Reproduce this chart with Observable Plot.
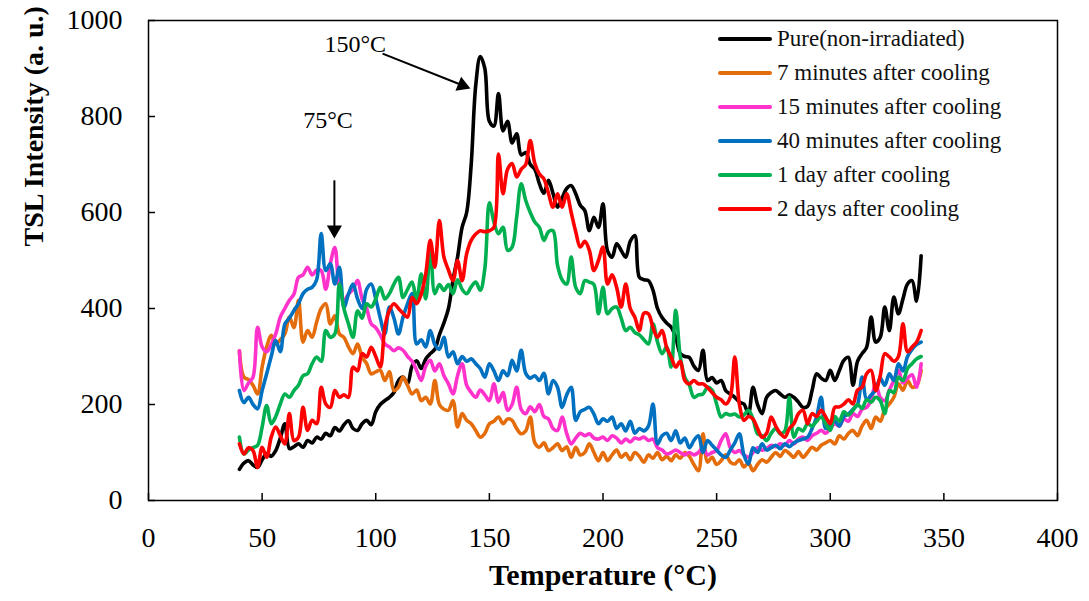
<!DOCTYPE html>
<html>
<head>
<meta charset="utf-8">
<script src="https://cdn.jsdelivr.net/npm/d3@7"></script>
<script src="https://cdn.jsdelivr.net/npm/@observablehq/plot@0.6"></script>
<style>
  html, body { margin: 0; padding: 0; background: #fff; }
  #wrap { position: relative; width: 1089px; height: 601px; font-family: "Liberation Serif", "Times New Roman", serif; }
  #legend { position: absolute; left: 718px; top: 22px; }
  .row { display: flex; align-items: center; height: 34px; }
  .swatch { width: 54px; height: 4px; border-radius: 2px; margin-right: 5px; }
  .lab { font-size: 23px; color: #111; white-space: nowrap; }
</style>
</head>
<body>
<div id="wrap"></div>
<script>
// Temperature grid (°C), shared by all glow curves
const temps = [
  40, 42, 44, 46, 48, 50, 52, 54, 56, 58,
  60, 62, 64, 66, 68, 70, 72, 74, 76, 78,
  80, 82, 84, 86, 88, 90, 92, 94, 96, 98,
  100, 102, 104, 106, 108, 110, 112, 114, 116, 118,
  120, 122, 124, 126, 128, 130, 132, 134, 136, 138,
  140, 142, 144, 146, 148, 150, 152, 154, 156, 158,
  160, 162, 164, 166, 168, 170, 172, 174, 176, 178,
  180, 182, 184, 186, 188, 190, 192, 194, 196, 198,
  200, 202, 204, 206, 208, 210, 212, 214, 216, 218,
  220, 222, 224, 226, 228, 230, 232, 234, 236, 238,
  240, 242, 244, 246, 248, 250, 252, 254, 256, 258,
  260, 262, 264, 266, 268, 270, 272, 274, 276, 278,
  280, 282, 284, 286, 288, 290, 292, 294, 296, 298,
  300, 302, 304, 306, 308, 310, 312, 314, 316, 318,
  320, 322, 324, 326, 328, 330, 332, 334, 336, 338,
  340
];

// TSL intensity (a. u.) for each sample
const pure = [
  65, 78, 83, 74, 69, 85, 98, 92, 104, 130,
  160, 108, 112, 118, 111, 125, 120, 132, 128, 140,
  135, 152, 145, 158, 166, 150, 146, 160, 167, 158,
  185, 200, 208, 215, 225, 250, 257, 243, 280, 291,
  275, 295, 306, 315, 345, 370, 400, 460, 507, 569,
  600, 700, 865, 925, 900, 790, 780, 848, 770, 790,
  745, 764, 720, 725, 700, 690, 660, 640, 667, 640,
  611, 630, 650, 656, 639, 615, 604, 562, 590, 569,
  618, 520, 507, 535, 521, 507, 540, 552, 465, 460,
  458, 438, 400, 381, 370, 361, 340, 306, 300, 298,
  280, 271, 313, 250, 256, 245, 250, 229, 222, 215,
  205, 201, 181, 236, 200, 181, 215, 225, 229, 222,
  215, 220, 215, 205, 194, 196, 229, 264, 255, 250,
  271, 250, 271, 292, 298, 240, 290, 306, 319, 382,
  330, 340, 403, 354, 424, 389, 420, 451, 458, 415,
  510
];
const min7 = [
  312, 257, 252, 240, 222, 278, 320, 344, 326, 335,
  347, 382, 360, 417, 330, 354, 340, 372, 400, 410,
  368, 385, 347, 340, 320, 306, 326, 299, 285, 264,
  268, 271, 250, 268, 229, 236, 257, 240, 222, 230,
  208, 215, 201, 250, 200, 190, 188, 208, 153, 181,
  167, 160, 146, 132, 140, 160, 165, 174, 160, 170,
  167, 150, 139, 145, 174, 120, 111, 120, 104, 110,
  118, 104, 112, 90, 111, 95, 100, 118, 100, 83,
  100, 83, 95, 105, 90, 98, 85, 100, 92, 80,
  95, 88, 100, 85, 92, 83, 95, 88, 100, 92,
  75, 62, 139, 80, 90, 75, 83, 95, 80, 76,
  85, 70, 78, 62, 75, 85, 80, 90, 100, 92,
  104, 98, 90, 102, 90, 100, 111, 105, 115, 120,
  125, 118, 135, 128, 140, 146, 135, 155, 167, 150,
  174, 165, 190, 201, 215, 243, 230, 250, 236, 240,
  271
];
const min15 = [
  312, 229, 245, 257, 361, 320, 310, 325, 347, 382,
  400, 417, 430, 465, 470, 486, 470, 480, 479, 440,
  493, 527, 440, 417, 430, 440, 458, 420, 400, 368,
  360, 345, 326, 320, 312, 318, 313, 300, 290, 271,
  250, 280, 292, 270, 285, 260, 243, 222, 260, 285,
  240, 225, 215, 230, 220, 208, 243, 205, 225, 188,
  200, 236, 190, 181, 195, 185, 200, 175, 170, 150,
  146, 174, 140, 118, 130, 140, 135, 139, 130, 128,
  132, 125, 135, 130, 120, 128, 122, 130, 128, 132,
  125, 128, 110, 105, 97, 100, 105, 100, 95, 100,
  95, 100, 110, 95, 100, 104, 125, 139, 110, 100,
  104, 95, 90, 100, 110, 105, 108, 115, 112, 118,
  115, 125, 118, 128, 132, 125, 135, 140, 146, 140,
  150, 160, 155, 170, 165, 181, 175, 190, 194, 210,
  243, 215, 208, 230, 250, 271, 245, 255, 262, 236,
  285
];
const min40 = [
  229, 204, 215, 200, 191, 229, 264, 300, 333, 310,
  368, 380, 396, 410, 431, 440, 444, 460, 556, 479,
  493, 451, 486, 402, 430, 451, 420, 400, 440, 451,
  420, 380, 347, 403, 380, 347, 382, 410, 431, 326,
  335, 320, 354, 325, 315, 340, 299, 310, 285, 300,
  290, 295, 285, 275, 257, 285, 270, 250, 270, 260,
  292, 270, 313, 265, 255, 260, 250, 265, 222, 250,
  236, 194, 220, 236, 167, 185, 190, 194, 180, 160,
  170, 165, 174, 150, 160, 145, 165, 140, 150, 145,
  155, 201, 118, 135, 140, 125, 145, 120, 130, 110,
  125, 135, 100, 125, 115, 105, 95, 90, 105, 120,
  139, 95, 76, 110, 100, 118, 105, 110, 115, 108,
  118, 112, 120, 125, 128, 132, 150, 174, 215, 150,
  160, 165, 155, 175, 180, 190, 200, 257, 210, 220,
  230, 255, 240, 264, 250, 285, 270, 300, 315, 325,
  330
];
const day1 = [
  132, 97, 105, 110, 115, 153, 198, 160, 175, 201,
  222, 215, 229, 240, 260, 264, 285, 299, 290, 354,
  340, 347, 451, 400, 368, 340, 395, 380, 410, 403,
  420, 444, 420, 431, 451, 465, 423, 440, 455, 417,
  472, 420, 528, 431, 450, 438, 450, 431, 460, 440,
  431, 445, 455, 438, 483, 620, 580, 556, 569, 521,
  528, 590, 660, 625, 600, 580, 569, 542, 560, 562,
  490, 460, 451, 507, 444, 431, 458, 455, 450, 389,
  444, 389, 400, 403, 380, 354, 361, 350, 345, 335,
  326, 368, 330, 306, 320, 278, 396, 300, 257, 240,
  215, 220, 222, 236, 230, 201, 174, 181, 178, 180,
  174, 178, 188, 170, 139, 135, 125, 140, 150, 139,
  145, 215, 132, 150, 145, 160, 155, 165, 174, 160,
  146, 175, 165, 185, 178, 188, 200, 192, 210, 205,
  215, 208, 181, 229, 225, 257, 250, 275, 285, 295,
  300
];
const day2 = [
  118, 97, 110, 104, 69, 111, 90, 132, 153, 135,
  118, 181, 125, 132, 194, 146, 167, 160, 236, 201,
  194, 229, 215, 220, 215, 278, 270, 306, 299, 319,
  300, 278, 361, 396, 410, 400, 390, 382, 423, 410,
  430, 472, 542, 486, 583, 507, 480, 458, 500, 458,
  514, 542, 555, 562, 560, 562, 569, 722, 639, 690,
  702, 674, 690, 700, 750, 702, 680, 670, 640, 611,
  639, 611, 639, 600, 560, 528, 540, 521, 479, 500,
  528, 451, 470, 444, 403, 451, 400, 382, 354, 390,
  389, 360, 340, 354, 319, 299, 278, 290, 250, 243,
  250, 243, 243, 235, 225, 215, 210, 201, 215, 299,
  201, 167, 175, 170, 150, 132, 140, 174, 155, 140,
  132, 150, 160, 181, 188, 160, 181, 175, 188, 174,
  160, 194, 195, 201, 210, 201, 230, 236, 264, 271,
  229, 260, 306, 299, 290, 300, 368, 310, 320, 330,
  354
];

const seriesNames = [
  "Pure(non-irradiated)",
  "7 minutes after cooling",
  "15 minutes after cooling",
  "40 minutes after cooling",
  "1 day after cooling",
  "2 days after cooling"
];
const seriesValues = [pure, min7, min15, min40, day1, day2];
const seriesColors = ["#000000", "#E46C0A", "#FF33CC", "#0070C0", "#00B050", "#FF0000"];

const xTicks = [0, 50, 100, 150, 200, 250, 300, 350, 400];
const yTicks = [0, 200, 400, 600, 800, 1000];

// Peak annotations: label text and arrow geometry in data units
const peakLabels = [
  {text: "150°C", temp: 91, value: 950},
  {text: "75°C", temp: 79, value: 792}
];
const peakArrows = [
  {x1: 103, y1: 931, x2: 138.1, y2: 865, angle: 112},
  {x1: 81.8, y1: 667, x2: 81.8, y2: 564, angle: 180}
];

const rows = seriesNames.flatMap((name, k) =>
  temps.map((t, i) => ({name, temp: t, value: seriesValues[k][i]}))
);

const W = 1089, H = 601;
const M = {left: 148, right: 32, top: 20, bottom: 101};
const tickLen = 7;

const chart = Plot.plot({
  width: W,
  height: H,
  marginLeft: M.left,
  marginRight: M.right,
  marginTop: M.top,
  marginBottom: M.bottom,
  style: {fontFamily: "'Liberation Serif', 'Times New Roman', serif", fontSize: "28px", color: "#000", background: "#fff"},
  x: {domain: [0, 400]},
  y: {domain: [0, 1000]},
  color: {domain: seriesNames, range: seriesColors},
  marks: [
    // tick labels
    Plot.axisX({ticks: xTicks, tickSize: 0, tickPadding: 27, label: null, fontSize: 28, tickFormat: d => String(d)}),
    Plot.axisY({ticks: yTicks, tickSize: 0, tickPadding: 26, label: null, fontSize: 28, tickFormat: d => String(d)}),
    // short tick marks pointing into the plot area
    Plot.ruleX(xTicks, {x: d => d, insetTop: (H - M.top - M.bottom) - tickLen, stroke: "#000", strokeWidth: 1.5}),
    Plot.ruleY(yTicks, {y: d => d, insetRight: (W - M.left - M.right) - tickLen, stroke: "#000", strokeWidth: 1.5}),
    Plot.line(rows, {x: "temp", y: "value", z: "name", stroke: "name", strokeWidth: 3.6, curve: "catmull-rom", strokeLinejoin: "round"}),
    Plot.frame({stroke: "#000", strokeWidth: 1.5}),
    Plot.text(peakLabels, {x: "temp", y: "value", text: "text", fontSize: 24, fill: "#000"}),
    Plot.link(peakArrows, {x1: "x1", y1: "y1", x2: "x2", y2: "y2", stroke: "#000", strokeWidth: 2}),
    Plot.dot(peakArrows, {x: "x2", y: "y2", symbol: "triangle", r: 5.6, fill: "#000", stroke: null, rotate: "angle"}),
    Plot.text(["Temperature (°C)"], {frameAnchor: "bottom", dy: 84, text: d => d, fontWeight: "bold", fontSize: 30}),
    Plot.text(["TSL Intensity (a. u.)"], {frameAnchor: "left", dx: -114, dy: -14, rotate: -90, text: d => d, fontWeight: "bold", fontSize: 28})
  ]
});

const wrap = document.getElementById("wrap");
wrap.appendChild(chart);

// Legend inside the upper-right of the plot area
const legend = document.createElement("div");
legend.id = "legend";
seriesNames.forEach((name, k) => {
  const row = document.createElement("div");
  row.className = "row";
  const sw = document.createElement("div");
  sw.className = "swatch";
  sw.style.background = seriesColors[k];
  const lab = document.createElement("span");
  lab.className = "lab";
  lab.textContent = name;
  row.appendChild(sw);
  row.appendChild(lab);
  legend.appendChild(row);
});
wrap.appendChild(legend);
</script>
</body>
</html>
